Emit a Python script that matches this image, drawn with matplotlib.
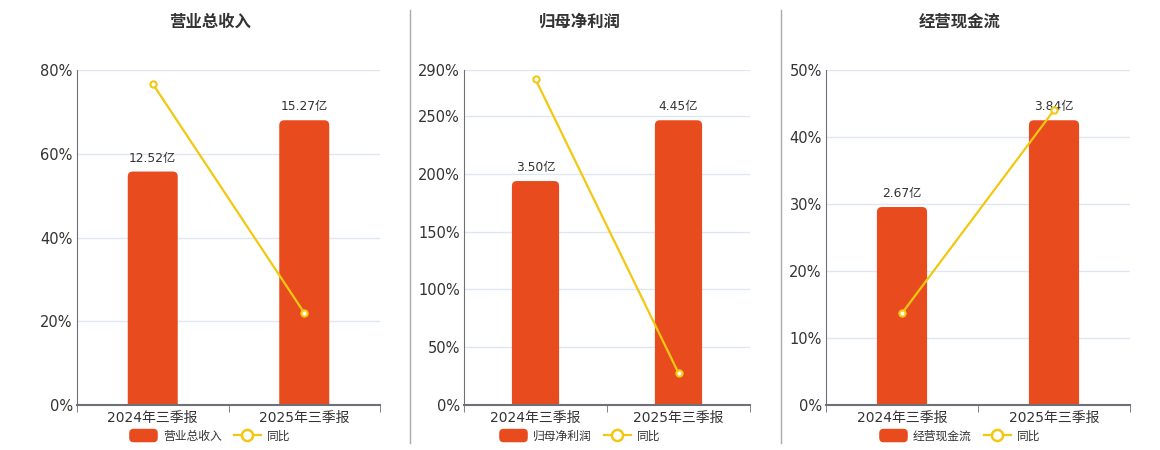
import matplotlib
matplotlib.use("Agg")
import matplotlib.pyplot as plt
from matplotlib.lines import Line2D
from matplotlib.patches import FancyBboxPatch
from matplotlib.legend_handler import HandlerPatch

plt.rcParams['font.family'] = ['DejaVu Sans', 'Noto Sans CJK SC']

# 数据
categories = ['2024年三季报', '2025年三季报']
titles = ['营业总收入', '归母净利润', '经营现金流']
amounts = [[12.52, 15.27], [3.50, 4.45], [2.67, 3.84]]
amount_labels = [['12.52亿', '15.27亿'], ['3.50亿', '4.45亿'], ['2.67亿', '3.84亿']]
yoy = [[76.7, 22.0], [282.0, 27.7], [13.7, 44.0]]
yticks = [[0, 20, 40, 60, 80],
          [0, 50, 100, 150, 200, 250, 290],
          [0, 10, 20, 30, 40, 50]]

bar_color = '#e84c1e'
line_color = '#f2c811'
axis_color = '#6e7079'
grid_color = '#e0e6f1'
text_color = '#333333'

fig = plt.figure(figsize=(11.6, 4.5), dpi=100)

# 位置 (像素)
panels = [(77, 380), (464, 750), (826, 1130)]
centers = [210, 580, 960]
W, H = 1160, 450
top, bottom = 70, 405
bar_w = 0.33
radius_px = 5


def rounded_handle(legend, orig_handle, xdescent, ydescent, width, height, fontsize):
    return FancyBboxPatch((-xdescent, -ydescent), width, height,
                          boxstyle='round,pad=0,rounding_size=%f' % (height * 0.3),
                          color=bar_color)


for i in range(3):
    l, r = panels[i]
    ax = fig.add_axes([l / W, 1 - bottom / H, (r - l) / W, (bottom - top) / H])
    bx = ax.twinx()
    ax.set_zorder(bx.get_zorder() + 1)
    ax.patch.set_visible(False)

    ymax = yticks[i][-1]
    bar_max = max(amounts[i]) / 0.85
    x = list(range(len(categories)))

    # 柱子 (圆角顶部)
    x_per_px = 2.0 / (r - l)
    y_per_px = bar_max / (bottom - top)
    rx = radius_px * x_per_px
    ry = radius_px * y_per_px
    for xi, v, lab in zip(x, amounts[i], amount_labels[i]):
        p = FancyBboxPatch((xi - bar_w / 2, -ry), bar_w, v + ry,
                           boxstyle='round,pad=0,rounding_size=%f' % rx,
                           mutation_aspect=ry / rx, color=bar_color,
                           lw=0, zorder=2)
        bx.add_patch(p)
        bx.annotate(lab, (xi, v), xytext=(0, 5), textcoords='offset points',
                    ha='center', va='bottom', fontsize=8.8, color=text_color)
    bx.set_ylim(0, bar_max)
    bx.set_yticks([t / ymax * bar_max for t in yticks[i]])
    bx.set_yticklabels([])
    bx.tick_params(axis='y', length=0)
    bx.grid(axis='y', color=grid_color, lw=1, zorder=0)
    bx.set_axisbelow(True)
    for s in bx.spines.values():
        s.set_visible(False)

    # 同比线
    ax.plot(x, yoy[i], color=line_color, lw=1.6, marker='o', ms=4.5,
            mfc='white', mec=line_color, mew=1.5, zorder=5)
    ax.set_ylim(0, ymax)
    ax.set_yticks(yticks[i])
    ax.set_yticklabels(['%d%%' % t for t in yticks[i]])
    ax.set_xlim(-0.5, 1.5)
    ax.set_xticks(x)
    ax.set_xticklabels(categories)
    ax.set_xticks([-0.5, 0.5, 1.5], minor=True)
    ax.tick_params(axis='x', which='major', length=0, labelsize=10,
                   labelcolor=text_color, pad=4)
    ax.tick_params(axis='x', which='minor', length=5, color=axis_color)
    ax.tick_params(axis='y', length=0, labelsize=10.5, labelcolor=text_color, pad=3)
    ax.spines['top'].set_visible(False)
    ax.spines['right'].set_visible(False)
    ax.spines['left'].set_color(axis_color)
    ax.spines['left'].set_linewidth(0.8)
    ax.spines['bottom'].set_color(axis_color)
    ax.spines['bottom'].set_linewidth(1.5)

    fig.text(centers[i] / W, 1 - 22 / H, titles[i], ha='center', va='center',
             fontsize=11.8, fontweight='bold', color=text_color)

    handles = [
        FancyBboxPatch((0, 0), 1, 1, color=bar_color),
        Line2D([], [], color=line_color, lw=1.6, marker='o', ms=8,
               mfc='white', mec=line_color, mew=1.8),
    ]
    fig.legend(handles, [titles[i], '同比'], loc='center',
               bbox_to_anchor=(centers[i] / W, 1 - 436 / H), ncol=2,
               frameon=False, fontsize=8.5, handlelength=2.3, handleheight=1.2,
               columnspacing=1.0, handletextpad=0.5, labelcolor=text_color,
               handler_map={FancyBboxPatch: HandlerPatch(patch_func=rounded_handle)})

# 分隔线
for xs in [410, 781]:
    fig.add_artist(Line2D([xs / W, xs / W], [1 - 443 / H, 1 - 10 / H],
                          color='#aaaaaa', lw=1))

fig.savefig('out.png', dpi=100)
